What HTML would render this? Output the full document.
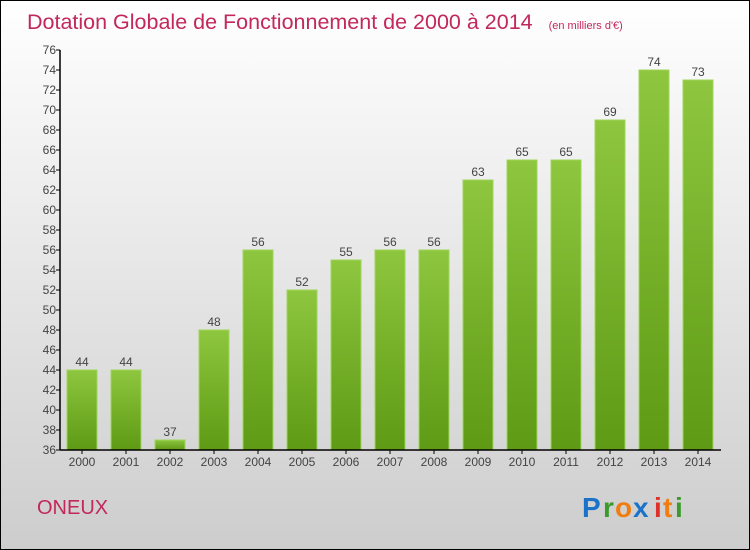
<!DOCTYPE html>
<html><head><meta charset="utf-8"><style>
html,body{margin:0;padding:0}
body{width:750px;height:550px;overflow:hidden;font-family:"Liberation Sans",sans-serif}
#wrap{position:absolute;left:0;top:0;width:748px;height:548px;border:1px solid #000;background:linear-gradient(#fff,#cdcdcd)}
</style></head><body>
<div id="wrap">
<svg id="chart" width="750" height="550" style="position:absolute;left:-1px;top:-1px">
<defs><linearGradient id="g" x1="0" y1="0" x2="0" y2="1"><stop offset="0" stop-color="#8ec63f"/><stop offset="1" stop-color="#5e9a14"/></linearGradient></defs>
<text x="27" y="29" font-size="21.5" fill="#c2285a" font-family="Liberation Sans, sans-serif">Dotation Globale de Fonctionnement de 2000 à 2014 <tspan font-size="11" dx="10">(en milliers d'€)</tspan></text>
<text x="37" y="514" font-size="20" fill="#c2285a" font-family="Liberation Sans, sans-serif">ONEUX</text>
<g id="bars"></g><g id="axes"></g>
<g font-family="Liberation Sans, sans-serif" font-size="28" font-weight="bold">
<text x="582" y="517" fill="#1a73c9">P</text><text x="603" y="517" fill="#3a9a2a">r</text><text x="615" y="517" fill="#f07d10">o</text><text x="633" y="517" fill="#1a73c9">x</text><text x="654" y="517" fill="#e0302a">i</text><text x="663" y="517" fill="#f07d10">t</text><text x="675" y="517" fill="#3a9a2a">i</text>
</g>
</svg></div>
<script>
const years=["2000","2001","2002","2003","2004","2005","2006","2007","2008","2009","2010","2011","2012","2013","2014"];
const values=[44,44,37,48,56,52,55,56,56,63,65,65,69,74,73];
const yTicks=[36,38,40,42,44,46,48,50,52,54,56,58,60,62,64,66,68,70,72,74,76];
const NS="http://www.w3.org/2000/svg";
const L=60,R=720,T=50,B=450,ymin=36,ymax=76;
const y=v=>B-(v-ymin)/(ymax-ymin)*(B-T);
const band=(R-L)/years.length;
const xc=i=>L+band*(i+0.5);
function mk(t,a,p){const e=document.createElementNS(NS,t);for(const k in a)e.setAttribute(k,a[k]);p.appendChild(e);return e;}
const bars=document.getElementById('bars'),axes=document.getElementById('axes');
values.forEach((v,i)=>{
 const r=mk('rect',{x:xc(i)-15,y:y(v),width:30,height:B-y(v),fill:'url(#g)',stroke:'#9ed65a','stroke-width':1},bars);
 
 
 const t=mk('text',{x:xc(i),y:y(v)-4,'text-anchor':'middle','font-size':12,fill:'#444'},bars);
 t.textContent=v;
 
 
 const xl=mk('text',{x:xc(i),y:B+16,'text-anchor':'middle','font-size':12,fill:'#444'},axes);
 xl.textContent=years[i];
 
 
 mk('line',{x1:xc(i),x2:xc(i),y1:B,y2:B+4,stroke:'#000'},axes);
});
yTicks.forEach(v=>{
 mk('line',{x1:L-4,x2:L,y1:y(v),y2:y(v),stroke:'#000'},axes);
 const t=mk('text',{x:L-4,y:y(v)+4,'text-anchor':'end','font-size':12,fill:'#444'},axes);
 t.textContent=v;
 
 
});
const ya=mk('line',{x1:L,x2:L,y1:T,y2:B,stroke:'#000','stroke-width':1.5},axes);


const xa=mk('line',{x1:L,x2:R+1,y1:B,y2:B,stroke:'#000','stroke-width':1.5},axes);


</script>
</body></html>
